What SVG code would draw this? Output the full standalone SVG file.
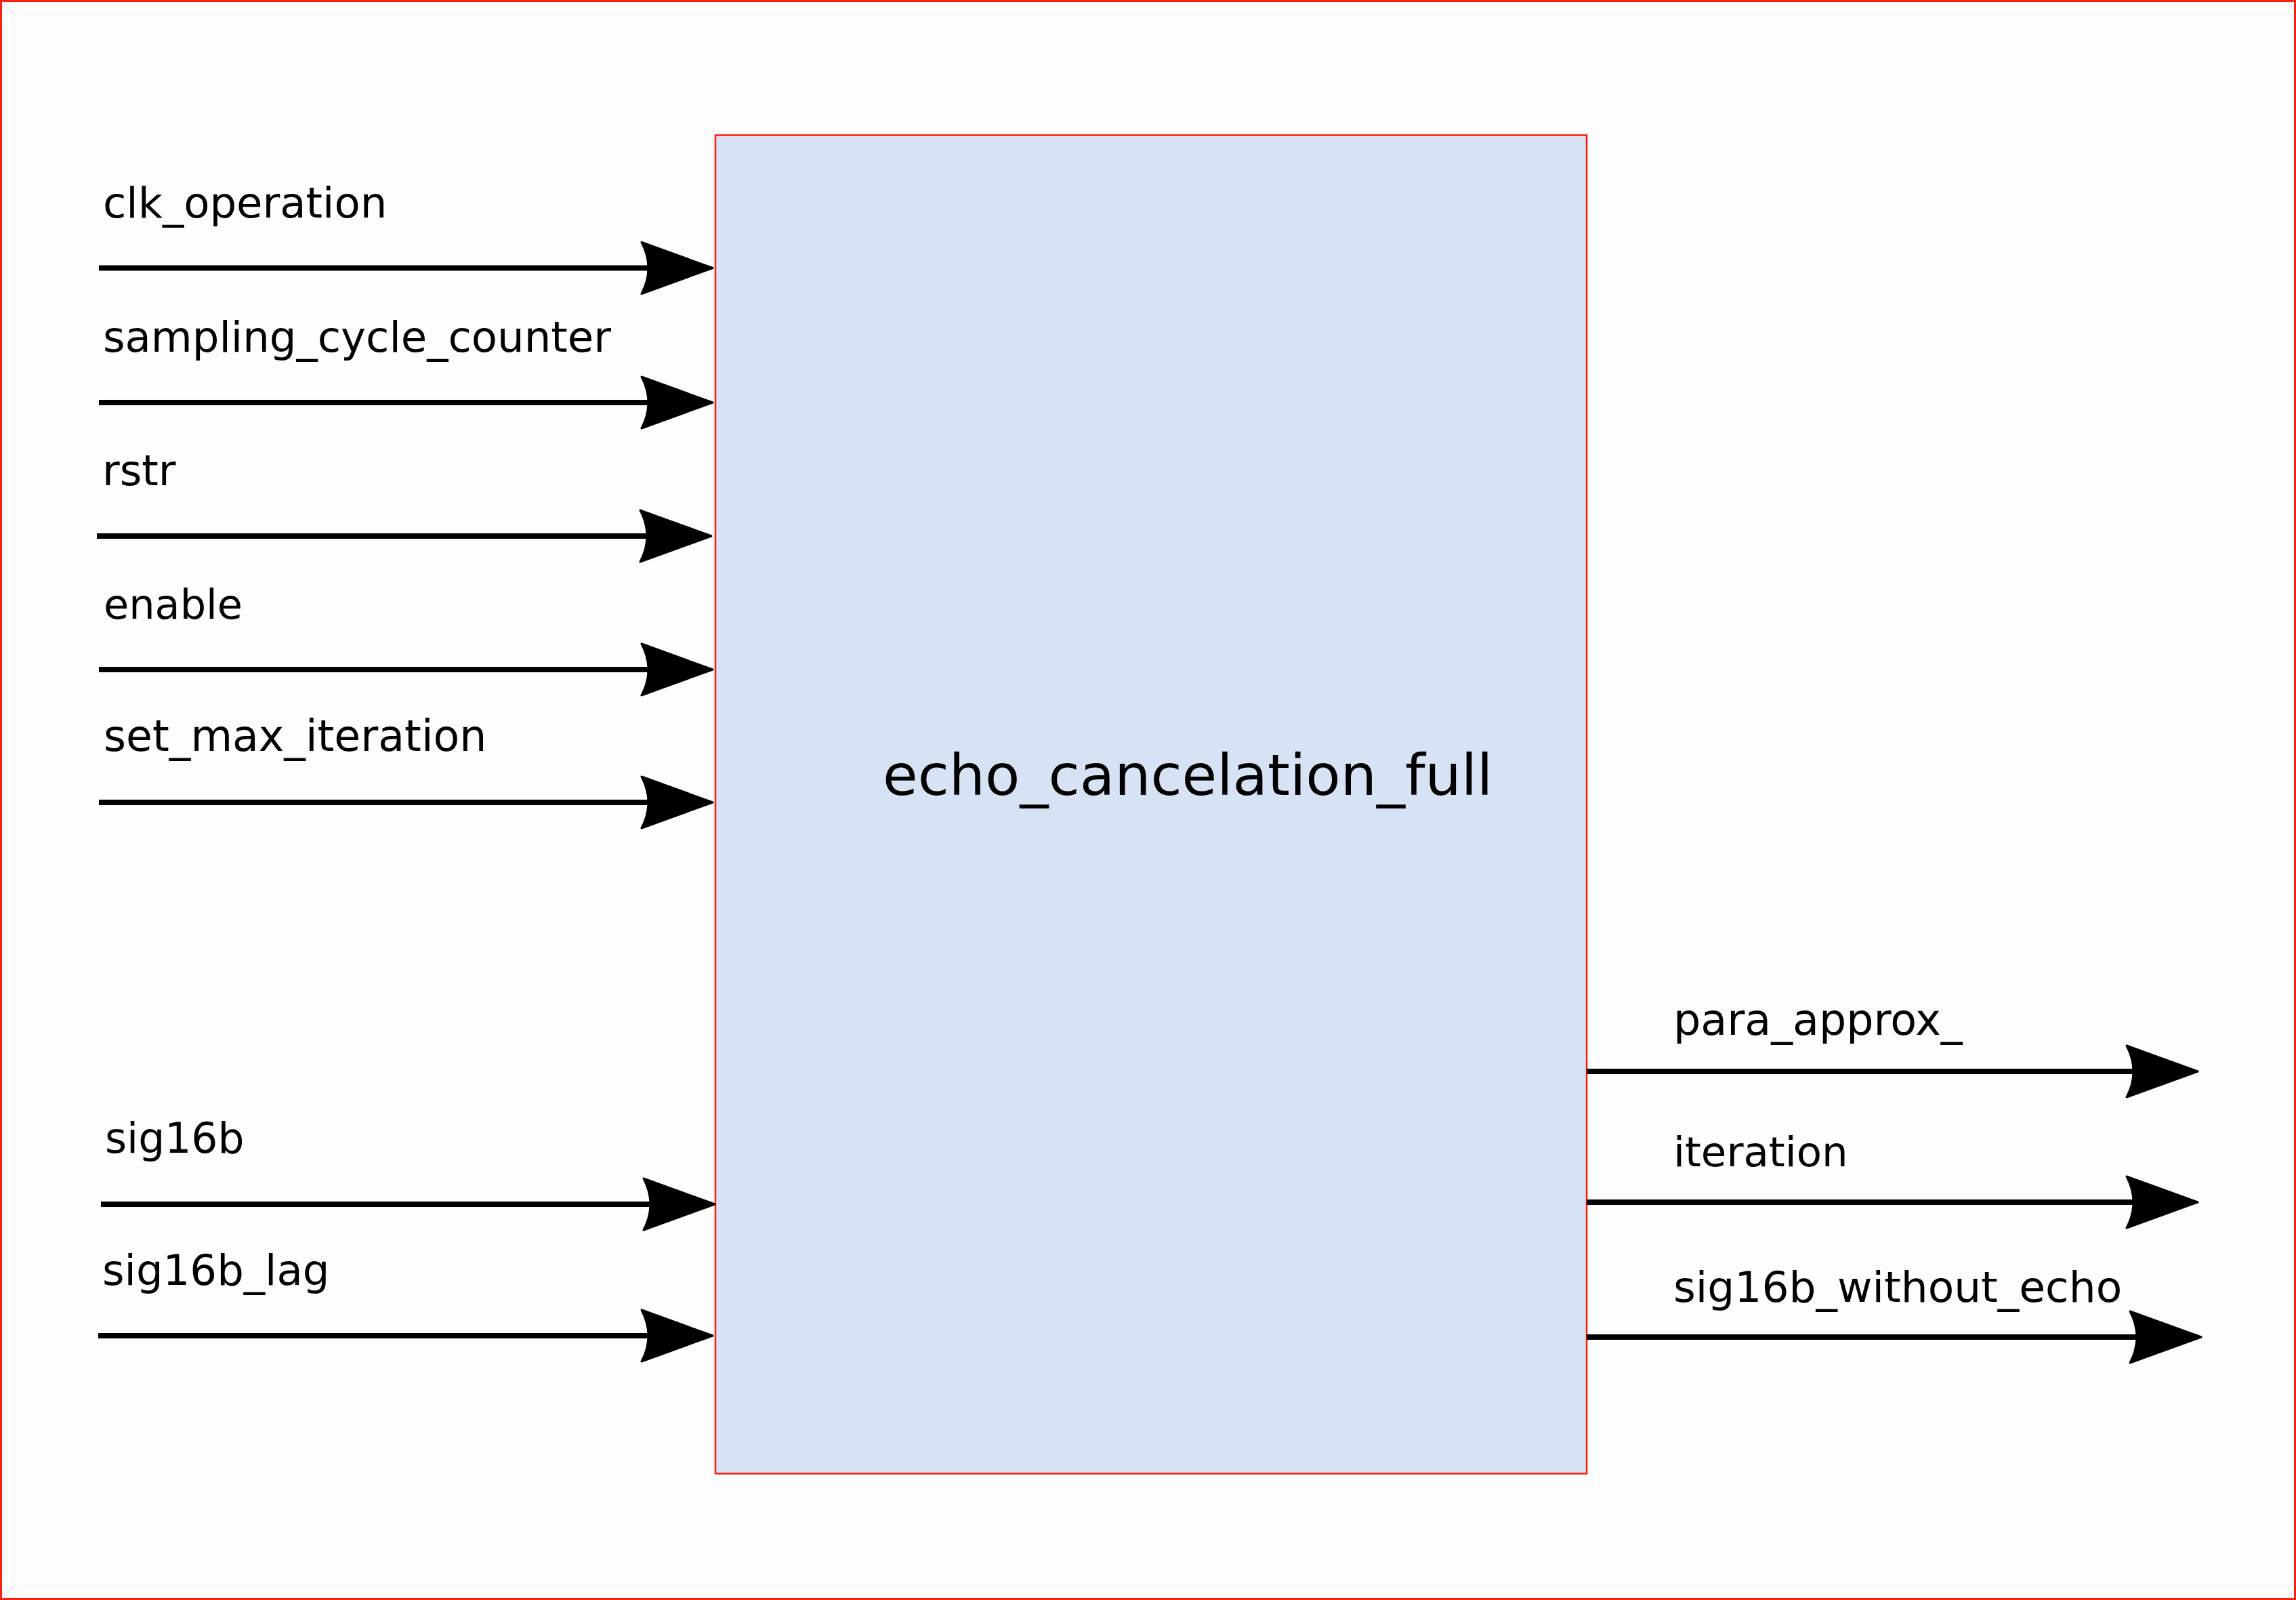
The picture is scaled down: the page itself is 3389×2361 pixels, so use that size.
<svg xmlns="http://www.w3.org/2000/svg" width="3389" height="2361" viewBox="0 0 3389 2361">
<style>
.lbl{font-family:"DejaVu Sans",Verdana,sans-serif;font-size:62.5px;fill:#000}
.rlbl{font-family:"DejaVu Sans",Verdana,sans-serif;font-size:63.5px;fill:#000}
.title{font-family:"DejaVu Sans",Verdana,sans-serif;font-size:84px;fill:#000}
.wire{stroke:#000;stroke-width:8;fill:none}
.head{fill:#000;stroke:#000;stroke-width:3;stroke-linejoin:round}
</style>
<defs>
<path id="ah" d="M0,0 L-105,-38 Q-85,0 -105,38 Z"/>
</defs>
<rect x="1.5" y="1.5" width="3386" height="2358" fill="#fdfdfd" stroke="#ff2010" stroke-width="3"/>
<g id="block">
<rect x="1056" y="199.5" width="1286" height="1975" fill="#d7e3f4" stroke="#ff1a0a" stroke-width="2.5"/>
<text class="title" x="1303" y="1173">echo_cancelation_full</text>
</g>
<g id="connectors">
<line class="wire" x1="146" y1="395.5" x2="960" y2="395.5"/>
<use href="#ah" class="head" transform="translate(1052,395.5)"/>
<line class="wire" x1="146" y1="594" x2="960" y2="594"/>
<use href="#ah" class="head" transform="translate(1052,594)"/>
<line class="wire" x1="143" y1="791" x2="958" y2="791"/>
<use href="#ah" class="head" transform="translate(1050,791)"/>
<line class="wire" x1="146" y1="988" x2="960" y2="988"/>
<use href="#ah" class="head" transform="translate(1052,988)"/>
<line class="wire" x1="146" y1="1184" x2="960" y2="1184"/>
<use href="#ah" class="head" transform="translate(1052,1184)"/>
<line class="wire" x1="149" y1="1777" x2="963" y2="1777"/>
<use href="#ah" class="head" transform="translate(1055,1777)"/>
<line class="wire" x1="145" y1="1971" x2="960" y2="1971"/>
<use href="#ah" class="head" transform="translate(1052,1971)"/>
<line class="wire" x1="2342" y1="1581" x2="3152" y2="1581"/>
<use href="#ah" class="head" transform="translate(3244,1581)"/>
<line class="wire" x1="2342" y1="1774" x2="3152" y2="1774"/>
<use href="#ah" class="head" transform="translate(3244,1774)"/>
<line class="wire" x1="2342" y1="1973" x2="3157" y2="1973"/>
<use href="#ah" class="head" transform="translate(3249,1973)"/>
</g>
<g id="port-clk_operation"><text class="lbl" x="152" y="321">clk_operation</text></g>
<g id="port-sampling_cycle_counter"><text class="lbl" x="152" y="519">sampling_cycle_counter</text></g>
<g id="port-rstr"><text class="lbl" x="151" y="716">rstr</text></g>
<g id="port-enable"><text class="lbl" x="153" y="913" style="font-size:60.5px">enable</text></g>
<g id="port-set_max_iteration"><text class="lbl" x="153" y="1108" style="font-size:63.3px">set_max_iteration</text></g>
<g id="port-sig16b"><text class="lbl" x="155" y="1701" style="font-size:61.5px">sig16b</text></g>
<g id="port-sig16b_lag"><text class="lbl" x="151" y="1896">sig16b_lag</text></g>
<g id="port-para_approx_"><text class="rlbl" x="2470" y="1527">para_approx_</text></g>
<g id="port-iteration"><text class="rlbl" x="2470" y="1721" style="font-size:61px">iteration</text></g>
<g id="port-sig16b_without_echo"><text class="rlbl" x="2470" y="1921" style="font-size:63px">sig16b_without_echo</text></g>
</svg>
